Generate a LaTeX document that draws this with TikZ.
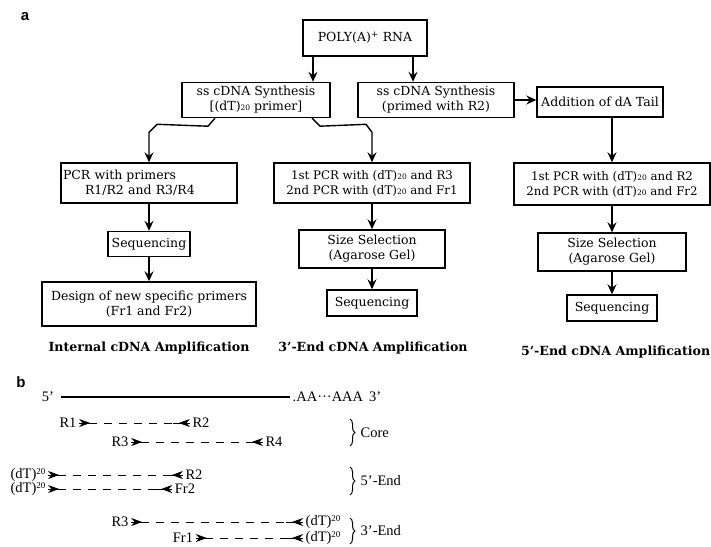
\documentclass[tikz,border=0pt]{standalone}
\usepackage{fontspec}
\setmainfont{DejaVu Serif}
\newfontfamily\timesfont{Liberation Serif}
\newfontfamily\headfont{Liberation Sans}
\usetikzlibrary{arrows.meta,calc,decorations.pathreplacing}

\newcommand{\dTsub}{(dT){\fontsize{7.5}{8}\selectfont 20}}
\newcommand{\dTsup}{(dT)\raisebox{.6ex}{\fontsize{9}{9}\selectfont 20}}

\begin{document}
\begin{tikzpicture}[x=1pt,y=-1pt,->,>={Stealth[length=10pt,width=9pt,inset=3.5pt]},
                    line width=1.4pt,node distance=60pt,
                    font=\fontsize{12.5}{15}\selectfont]
  \tikzstyle{box}=[draw,rectangle,align=center,inner sep=2pt]
  \tikzstyle{pcr}=[box,font=\fontsize{11.8}{15}\selectfont]
  \tikzstyle{amp}=[font=\fontsize{12.6}{14}\selectfont\bfseries]
  \tikzstyle{head}=[font=\headfont\bfseries\fontsize{15}{15}\selectfont]
  \tikzstyle{seq}=[font=\timesfont\fontsize{14.5}{16}\selectfont,inner sep=2pt]
  \tikzstyle{primer}=[{Stealth[length=11pt,width=8pt,inset=3.5pt,reversed]}-{Stealth[length=11pt,width=8pt,inset=3.5pt,reversed]},
                      line width=0.9pt,dash pattern=on 8pt off 7pt]
  \tikzstyle{brace}=[-,line width=1pt,decorate,decoration={brace,amplitude=5pt}]

  \useasboundingbox (0,0) rectangle (711,546);

  % part a
  \node[head] (pa) at (25,17) {a};

  \node[box,minimum width=124pt,minimum height=36pt] (poly) at (365,38) {POLY(A)\textsuperscript{+} RNA};
  \node[box,minimum width=148pt,minimum height=35pt] (ssL) at (256,100) {ss cDNA Synthesis\\{[}\dTsub{} primer]};
  \node[box,minimum width=156pt,minimum height=35pt] (ssR) at (436,100) {ss cDNA Synthesis\\(primed with R2)};
  \node[box,minimum width=126pt,minimum height=30pt] (add) at (600,102) {Addition of dA Tail};

  \node[box,text width=172pt,align=left,minimum height=40pt] (pcrI) at (149,183) {PCR with primers\\\hspace*{22pt}R1/R2 and R3/R4};
  \node[pcr,minimum width=196pt,minimum height=40pt] (pcrM) at (372,183) {1st PCR with \dTsub{} and R3\\2nd PCR with \dTsub{} and Fr1};
  \node[pcr,minimum width=196pt,minimum height=42pt] (pcrR) at (612,184) {1st PCR with \dTsub{} and R2\\2nd PCR with \dTsub{} and Fr2};

  \node[box,minimum width=82pt,minimum height=25pt] (seqI) [below of=pcrI,node distance=61pt] {Sequencing};
  \node[box,minimum width=214pt,minimum height=44pt] (desI) [below of=seqI,node distance=60pt] {Design of new specific primers\\(Fr1 and Fr2)};
  \node[box,minimum width=146pt,minimum height=38pt] (sizeM) [below of=pcrM,node distance=66pt] {Size Selection\\(Agarose Gel)};
  \node[box,minimum width=90pt,minimum height=26pt] (seqM) [below of=sizeM,node distance=54pt] {Sequencing};
  \node[box,minimum width=148pt,minimum height=38pt] (sizeR) [below of=pcrR,node distance=68pt] {Size Selection\\(Agarose Gel)};
  \node[box,minimum width=90pt,minimum height=26pt] (seqR) [below of=sizeR,node distance=56pt] {Sequencing};

  \node[amp] (labI) at (149,348) {Internal cDNA Amplification};
  \node[amp] (labM) at (373,348) {3’-End cDNA Amplification};
  \node[amp,anchor=east,inner xsep=0pt] (labR) at (711,352) {5’-End cDNA Amplification};

  \draw ([xshift=-52pt]poly.south) -- ([xshift=-52pt]poly.south |- ssL.north);
  \draw ([xshift=48pt]poly.south) -- ([xshift=48pt]poly.south |- ssR.north);
  \draw (ssR.east) -- (ssR.east -| add.west);
  \draw (pcrR.north |- add.south) -- (pcrR.north);
  \draw ([xshift=-41pt]ssL.south) -- ++(-7,8) -- ($(pcrI.north)+(8,-38)$) -- ++(-8,8) -- (pcrI.north);
  \draw ([xshift=56pt]ssL.south) -- ++(8,8) -- ($(pcrM.north)+(-6,-38)$) -- ++(6,8) -- (pcrM.north);

  \path (pcrI)  edge (seqI)
        (seqI)  edge (desI)
        (pcrM)  edge (sizeM)
        (sizeM) edge (seqM)
        (pcrR)  edge (sizeR)
        (sizeR) edge (seqR);

  % part b
  \node[head] (pb) at (21,382) {b};
  \node[seq] (five) at (48,397) {5’};
  \node[seq,anchor=west] (tail) at (290,397) {.AA···AAA\hspace{6pt}3’};
  \draw[-,line width=1.3pt] ([xshift=4pt]five.east) -- (tail.west);

  \node[seq] (r1)  at (68,423)  {R1};
  \node[seq] (r2)  at (201,423) {R2};
  \node[seq] (r3)  at (120,442) {R3};
  \node[seq] (r4)  at (274,442) {R4};
  \node[seq] (dt1) at (28,475)  {\dTsup};
  \node[seq] (r2b) at (194,475) {R2};
  \node[seq] (dt2) at (28,489)  {\dTsup};
  \node[seq] (fr2) at (185,489) {Fr2};
  \node[seq] (r3b) at (120,522) {R3};
  \node[seq,anchor=west] (dt3) at (303,522) {\dTsup};
  \node[seq] (fr1) at (183,538) {Fr1};
  \node[seq,anchor=west] (dt4) at (303,538) {\dTsup};

  \foreach \a/\b in {r1/r2,r3/r4,dt1/r2b,dt2/fr2,r3b/dt3,fr1/dt4}{
    \draw[primer] (\a.east) -- (\b.west);
    \draw[-,line width=0.9pt] (\a.east) -- ++(17,0);
    \draw[-,line width=0.9pt] (\b.west) -- ++(-17,0);
  }

  \draw[brace] (350,419) -- (350,446);
  \node[seq,anchor=west] (core) at (358,433) {Core};
  \draw[brace] (350,467) -- (350,495);
  \node[seq,anchor=west] (fiveend) at (358,481) {5’-End};
  \draw[brace] (350,518) -- (350,544);
  \node[seq,anchor=west] (threeend) at (358,531) {3’-End};
\end{tikzpicture}
\end{document}
